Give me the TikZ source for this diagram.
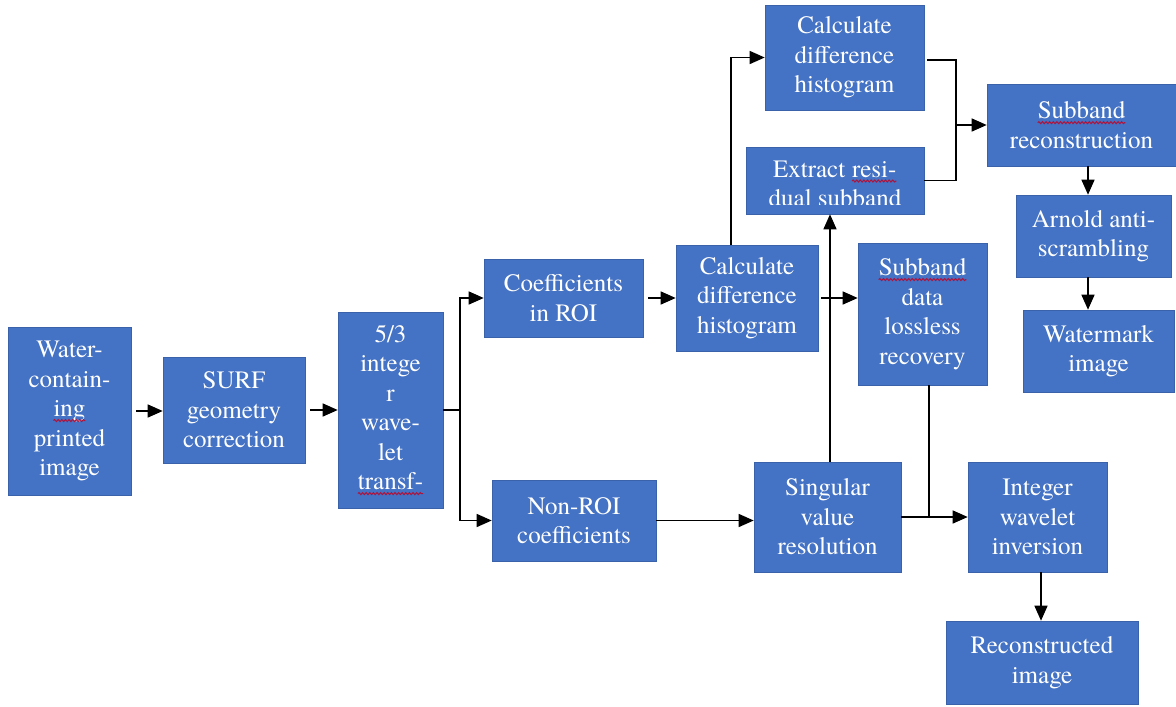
\documentclass[tikz,border=0pt]{standalone}
\usepackage{fontspec}
\IfFontExistsTF{texgyretermes-regular.otf}{\newfontfamily\boxfont{texgyretermes-regular.otf}}{\newfontfamily\boxfont{Liberation Serif}}
\usetikzlibrary{arrows.meta,decorations.pathmorphing}
\definecolor{boxblue}{HTML}{4472C4}
\definecolor{boxedge}{HTML}{3A62AA}
\definecolor{wavered}{HTML}{B0123A}
\newcommand\spellwave[1]{\tikz[baseline=(sw.base)]{\node[inner sep=0pt,outer sep=0pt,draw=none,fill=none,text=white,minimum width=0pt,minimum height=0pt](sw){#1};\draw[wavered,line width=1pt,decorate,decoration={snake,amplitude=1pt,segment length=3.6pt}]([yshift=-4pt]sw.base west)--([yshift=-4pt]sw.base east);}}
\tikzset{
  box/.style={draw=boxedge,line width=0.6pt,fill=boxblue,text=white,align=center,inner sep=0pt,font=\boxfont\fontsize{25}{29.5}\selectfont},
  txt/.style={text=white,inner sep=0pt,anchor=base,font=\boxfont\fontsize{25}{29.5}\selectfont},
  ln/.style={line width=1.4pt,black},
  arr/.style={ln,-{Triangle[length=15pt,width=13pt]}},
}
\begin{document}
\begin{tikzpicture}[x=1pt,y=-1pt]
\useasboundingbox[fill=white] (0,0) rectangle (1176,707);
% boxes
\node[box,minimum width=123pt,minimum height=168pt] (water) at (69.5,411) {Water-\\contain-\\\spellwave{ing}\\printed\\image};
\node[box,minimum width=142pt,minimum height=106pt] (surf) at (234,410) {SURF\\geometry\\correction};
\node[box,minimum width=105pt,minimum height=196pt] (wav) at (390.5,410) {5/3\\intege\\r\\wave-\\let\\\spellwave{transf-}};
\node[box,minimum width=159pt,minimum height=78pt] (roi) at (563.5,298) {Coefficients\\in ROI};
\node[box,minimum width=142pt,minimum height=106pt] (calcm) at (747,298) {Calculate\\difference\\histogram};
\node[box,minimum width=159pt,minimum height=105pt] (calct) at (844.5,57.5) {Calculate\\difference\\histogram};
\node[box,minimum width=178pt,minimum height=67pt] (extract) at (835,180.5) {};
\begin{scope}
\clip (746,147) rectangle (924,204);
\node[txt] (ext1) at (835,177) {Extract \spellwave{resi-}};
\node[txt] (ext2) at (835,206.5) {dual subband};
\end{scope}
\node[box,minimum width=189pt,minimum height=82pt] (subrec) at (1081.5,125) {\spellwave{Subband}\\reconstruction};
\node[box,minimum width=155pt,minimum height=82pt] (arnold) at (1093.5,236) {Arnold anti-\\scrambling};
\node[box,minimum width=151pt,minimum height=82pt] (wm) at (1098.5,351) {Watermark\\image};
\node[box,minimum width=129pt,minimum height=142pt] (sdl) at (922.5,314) {\spellwave{Subband}\\data\\lossless\\recovery};
\node[box,minimum width=164pt,minimum height=81pt] (nonroi) at (574,520.5) {Non-ROI\\coefficients};
\node[box,minimum width=147pt,minimum height=110pt] (svr) at (827.5,517) {Singular\\value\\resolution};
\node[box,minimum width=139pt,minimum height=110pt] (iwi) at (1037.5,517) {Integer\\wavelet\\inversion};
\node[box,minimum width=192pt,minimum height=83pt] (rec) at (1042,662.5) {Reconstructed\\image};
% connectors
\coordinate (trT) at (460,298);
\coordinate (trB) at (460,520.5);
\coordinate (bx) at (956,60);
\draw[arr,shorten <=5pt] (water.east) -- (water.east -| surf.west);
\draw[arr,shorten <=5pt] (surf.east) -- (surf.east -| wav.west);
\draw[ln] (wav.east) -- (wav.east -| trT);
\draw[arr] (trB) -- (trT) -- (roi.west);
\draw[arr] (trT) -- (trB) -- (nonroi.west);
\draw[arr,shorten <=5pt] (roi.east) -- (calcm.west);
\draw[arr] ([xshift=-16pt]calcm.north) |- (calct.west);
\draw[arr,shorten <=3pt] (calcm.east) -- (calcm.east -| sdl.west);
\draw[arr] ([xshift=2.5pt]svr.north) -- ([xshift=2.5pt]svr.north |- extract.south);
\draw[arr] (nonroi.east) -- (nonroi.east -| svr.west);
\draw[arr] (svr.east) -- (svr.east -| iwi.west);
\draw[ln] ([xshift=6.5pt]sdl.south) -- ([xshift=6.5pt]sdl.south |- svr.east);
\draw[arr] ([xshift=3.5pt]iwi.south) -- ([xshift=3.5pt]iwi.south |- rec.north);
\draw[ln,shorten <=3pt] (calct.east |- bx) -- (bx) |- (extract.east);
\draw[arr] (bx |- subrec.west) -- (subrec.west);
\draw[arr] ([xshift=6.5pt]subrec.south) -- ([xshift=6.5pt]subrec.south |- arnold.north);
\draw[arr] ([xshift=-5.5pt]arnold.south) -- ([xshift=-5.5pt]arnold.south |- wm.north);
\end{tikzpicture}
\end{document}
